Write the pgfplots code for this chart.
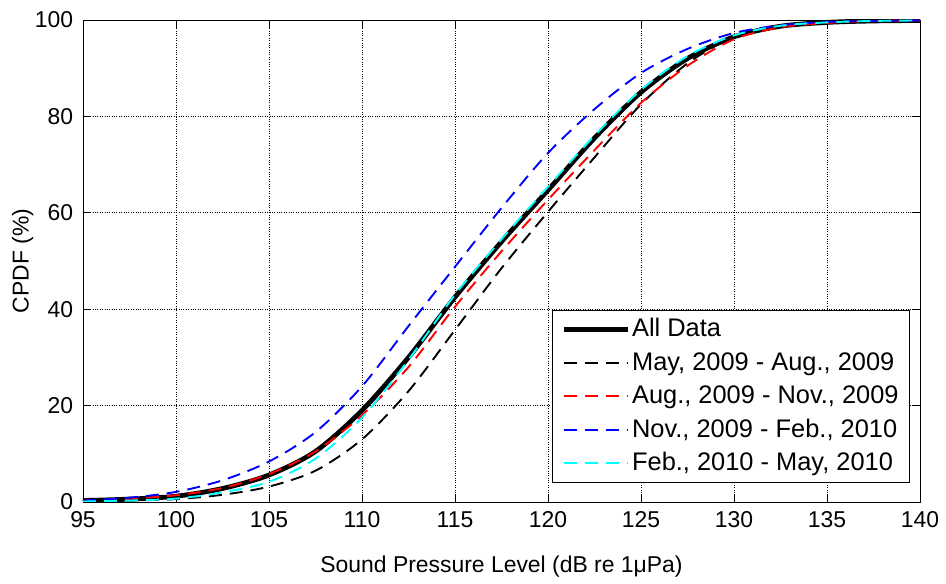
\documentclass[border=0pt]{standalone}
\usepackage{fontspec}
\setmainfont{Liberation Sans}
\usepackage{pgfplots}
\pgfplotsset{compat=1.18}
\definecolor{mcyan}{RGB}{0,255,255}
\definecolor{mblue}{RGB}{0,0,255}
\definecolor{mred}{RGB}{255,0,0}
\begin{document}
\fontsize{23}{27}\selectfont
\begin{tikzpicture}[x=1bp,y=1bp]
\path[use as bounding box] (-83,-82) rectangle (863,502);
\begin{axis}[
  at={(0,0)}, anchor=origin,
  width=837bp, height=482bp, scale only axis,
  xmin=95, xmax=140, ymin=0, ymax=100,
  xtick={95,100,...,140}, ytick={0,20,...,100},
  tick align=inside, major tick length=8bp,
  tick style={black, line width=0.6pt},
  axis line style={black, line width=0.8pt},
  grid=major, grid style={black, dotted, line width=0.7pt},
  /pgf/number format/assume math mode=true,
  ticklabel style={font=\fontsize{23}{27}\selectfont},
  yticklabel style={xshift=-2bp},
  xticklabel style={yshift=-2bp},
  label style={font=\fontsize{23}{27}\selectfont},
  xlabel={Sound Pressure Level (dB re 1μPa)},
  ylabel={CPDF (\%)},
  xlabel style={yshift=-12bp},
  ylabel style={yshift=-14bp},
  legend style={at={(0.988,0.04)}, anchor=south east, font=\fontsize{25.5}{29}\selectfont,
    draw=black, line width=0.8pt, fill=white, row sep=8bp, inner xsep=9bp, inner ysep=6bp},
  legend cell align=left,
  legend image code/.code={\draw[#1] (0bp,0bp) -- (64bp,0bp);},
]
\addplot[black, line width=4.8pt, smooth] coordinates {
(95,0.3)(97.5,0.6)(100,1.2)(102.5,2.8)(105,5.6)(107.5,10.5)(110,19)(112.5,30)(115,42.5)(117.5,54)(120,64.7)(122.5,75.5)(125,85)(127.5,92)(130,96.5)(132.5,98.7)(135,99.5)(137.5,99.8)(140,99.9)};
\addlegendentry{All Data}
\addplot[black, line width=1.9pt, dash pattern=on 13bp off 8bp, smooth] coordinates {
(95,0.2)(97.5,0.3)(100,0.6)(102.5,1.5)(105,3.2)(107.5,6.5)(110,13)(112.5,23)(115,35.7)(117.5,48.5)(120,60.2)(122.5,71.5)(125,82.5)(127.5,91)(130,96.5)(132.5,98.7)(135,99.5)(137.5,99.8)(140,99.9)};
\addlegendentry{May, 2009 - Aug., 2009}
\addplot[mred, line width=1.9pt, dash pattern=on 13bp off 8bp, smooth] coordinates {
(95,0.3)(97.5,0.7)(100,1.4)(102.5,2.9)(105,5.8)(107.5,10.5)(110,18)(112.5,28)(115,40.5)(117.5,52)(120,62.7)(122.5,73)(125,82.8)(127.5,90.5)(130,96)(132.5,98.5)(135,99.4)(137.5,99.8)(140,99.9)};
\addlegendentry{Aug., 2009 - Nov., 2009}
\addplot[mblue, line width=1.9pt, dash pattern=on 13bp off 8bp, smooth] coordinates {
(95,0.3)(97.5,0.9)(100,2.1)(102.5,4.5)(105,8.4)(107.5,14.5)(110,24)(112.5,36.5)(115,48.8)(117.5,61)(120,72.4)(122.5,81.5)(125,89)(127.5,94)(130,97.3)(132.5,98.9)(135,99.6)(137.5,99.8)(140,99.9)};
\addlegendentry{Nov., 2009 - Feb., 2010}
\addplot[mcyan, line width=1.9pt, dash pattern=on 13bp off 8bp, smooth] coordinates {
(95,0.1)(97.5,0.3)(100,0.7)(102.5,2)(105,4.2)(107.5,9)(110,17.5)(112.5,29.5)(115,43)(117.5,54.5)(120,65.4)(122.5,76)(125,85.5)(127.5,92.5)(130,96.8)(132.5,98.8)(135,99.5)(137.5,99.8)(140,99.9)};
\addlegendentry{Feb., 2010 - May, 2010}
\end{axis}
\end{tikzpicture}
\end{document}
